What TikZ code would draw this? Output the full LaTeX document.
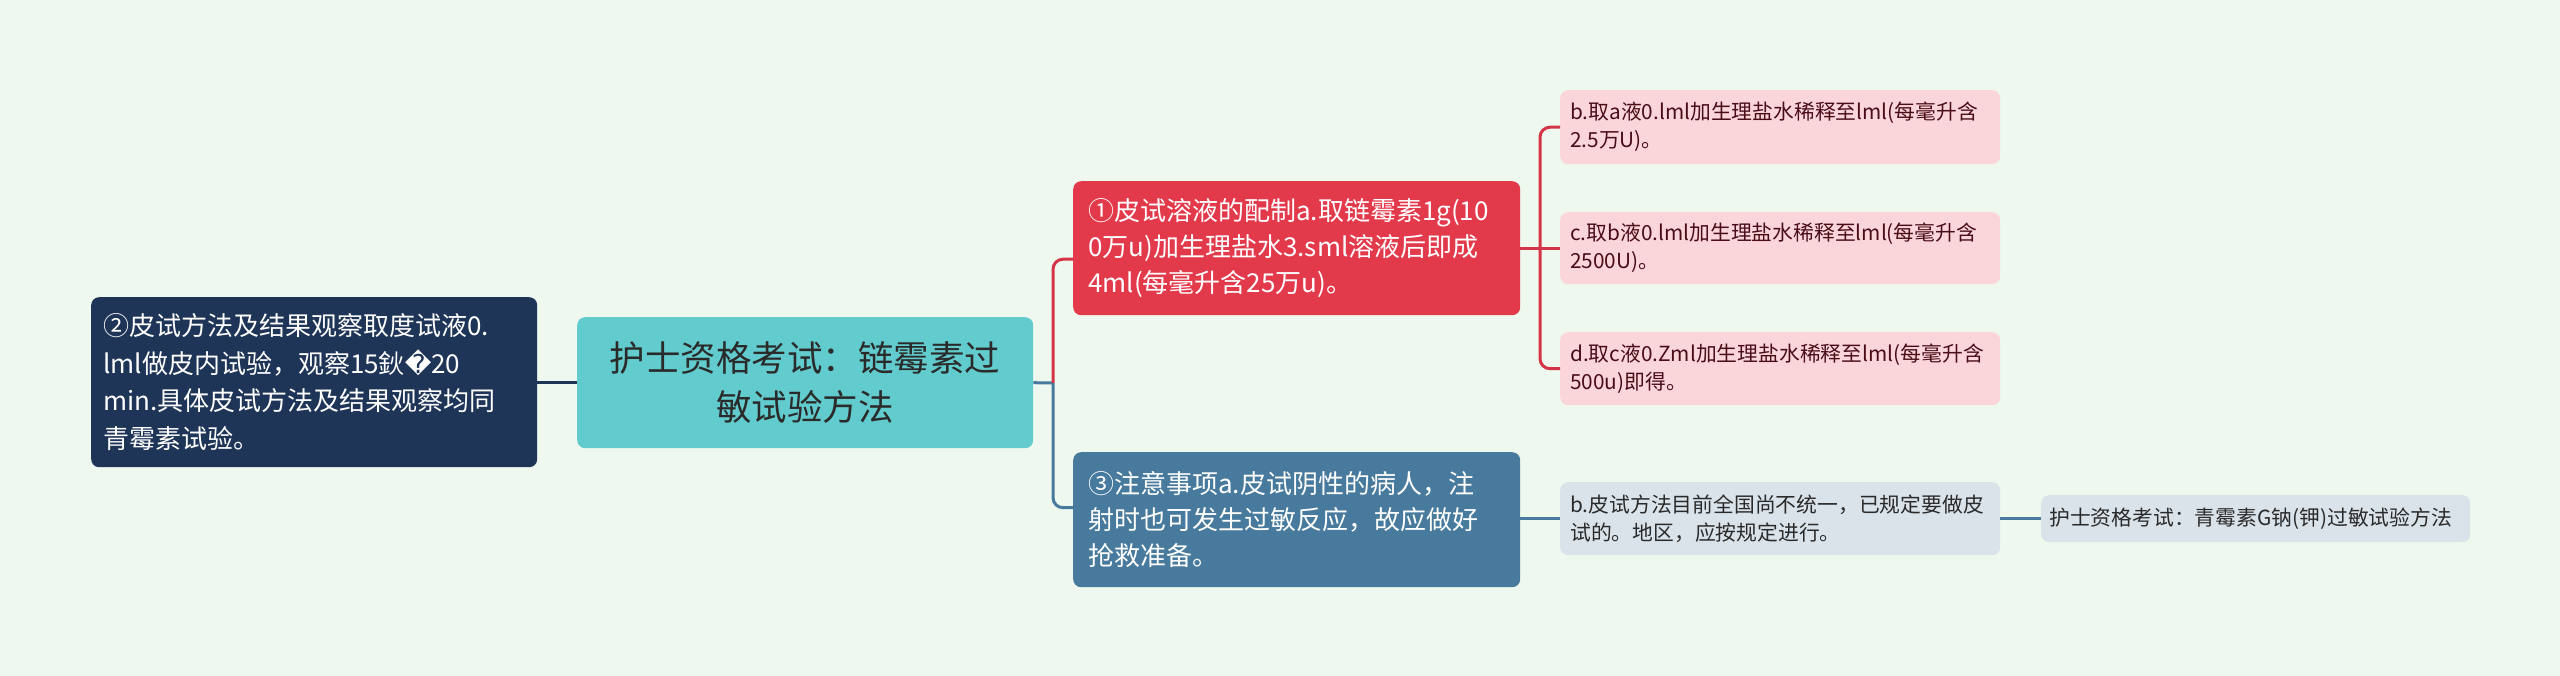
\documentclass[tikz,border=0pt]{standalone}
\usepackage{fontspec}
\usetikzlibrary{calc}
\setmainfont{Noto Sans CJK SC}
\newfontfamily\djv{DejaVu Sans}
\definecolor{bgc}{HTML}{EFF8EE}
\definecolor{navy}{HTML}{1E3557}
\definecolor{teal}{HTML}{62CBCD}
\definecolor{redn}{HTML}{E33A4B}
\definecolor{redl}{HTML}{D43447}
\definecolor{bluen}{HTML}{477A9C}
\definecolor{pinkn}{HTML}{FAD6DA}
\definecolor{pinkt}{HTML}{4A0D18}
\definecolor{grayn}{HTML}{DAE3EA}
\definecolor{darkt}{HTML}{2A2A2A}
\tikzset{
  box/.style={anchor=north west, rounded corners=8pt, inner ysep=0pt, align=left},
  big/.style={font=\fontsize{26}{37.5}\selectfont},
  mid/.style={font=\fontsize{26}{36}\selectfont},
  small/.style={font=\fontsize{20.8}{28}\selectfont},
  conn/.style={line width=3pt, rounded corners=10pt}
}
\begin{document}
\begin{tikzpicture}[x=1pt,y=-1pt]
\useasboundingbox (0,0) rectangle (2560,676);
\fill[bgc] (0,0) rectangle (2560,676);
% nodes
\node[box, big, fill=navy, text=white, inner xsep=12pt, text width=422pt, minimum height=170pt] (left) at (91,297)
 {②皮试方法及结果观察取度试液0.\\lml做皮内试验，观察15鈥{\djv\char"FFFD}20\\min.具体皮试方法及结果观察均同\\青霉素试验。};
\node[box, fill=teal, text=darkt, align=center, inner xsep=12pt, text width=432pt, minimum height=131pt, font=\fontsize{35.5}{49}\selectfont] (root) at (577,317)
 {护士资格考试：链霉素过\\敏试验方法};
\node[box, mid, fill=redn, text=white, inner xsep=15pt, text width=417pt, minimum height=134pt] (red) at (1073,181)
 {①皮试溶液的配制a.取链霉素1g(10\\0万u)加生理盐水3.sml溶液后即成\\4ml(每毫升含25万u)。};
\node[box, mid, fill=bluen, text=white, inner xsep=15pt, text width=417pt, minimum height=135pt] (blue) at (1073,452)
 {③注意事项a.皮试阴性的病人，注\\射时也可发生过敏反应，故应做好\\抢救准备。};
\node[box, small, fill=pinkn, text=pinkt, inner xsep=10pt, text width=420pt, minimum height=74pt] (pb) at (1560,90)
 {b.取a液0.lml加生理盐水稀释至lml(每毫升含\\2.5万U)。};
\node[box, small, fill=pinkn, text=pinkt, inner xsep=10pt, text width=420pt, minimum height=72pt] (pc) at (1560,212)
 {c.取b液0.lml加生理盐水稀释至lml(每毫升含\\2500U)。};
\node[box, small, fill=pinkn, text=pinkt, inner xsep=10pt, text width=420pt, minimum height=73pt] (pd) at (1560,332)
 {d.取c液0.Zml加生理盐水稀释至lml(每毫升含\\500u)即得。};
\node[box, small, fill=grayn, text=darkt, inner xsep=10pt, text width=420pt, minimum height=73pt] (gb) at (1560,482)
 {b.皮试方法目前全国尚不统一，已规定要做皮\\试的。地区，应按规定进行。};
\node[box, small, fill=grayn, text=darkt, inner xsep=8pt, text width=413pt, minimum height=47pt] (gl) at (2041,495)
 {护士资格考试：青霉素G钠(钾)过敏试验方法};
% connectors
\coordinate (j1) at (1053,383);
\coordinate (j2) at (1540,247);
\draw[conn, navy] (left.east |- root.west) -- (root.west);
\draw[conn, bluen] (root.east) -- (j1);
\draw[conn, redl] (j1) |- ($(red.west)+(0,11)$);
\draw[conn, bluen] (j1) |- ($(blue.west)+(0,-12)$);
\draw[conn, redl] (red.east |- pc.west) -- (pc.west);
\draw[conn, redl] (j2) |- (pb.west);
\draw[conn, redl] (j2) |- (pd.west);
\draw[conn, bluen] (blue.east |- gb.west) -- (gb.west);
\draw[conn, bluen] (gb.east |- gl.west) -- (gl.west);
\end{tikzpicture}
\end{document}
